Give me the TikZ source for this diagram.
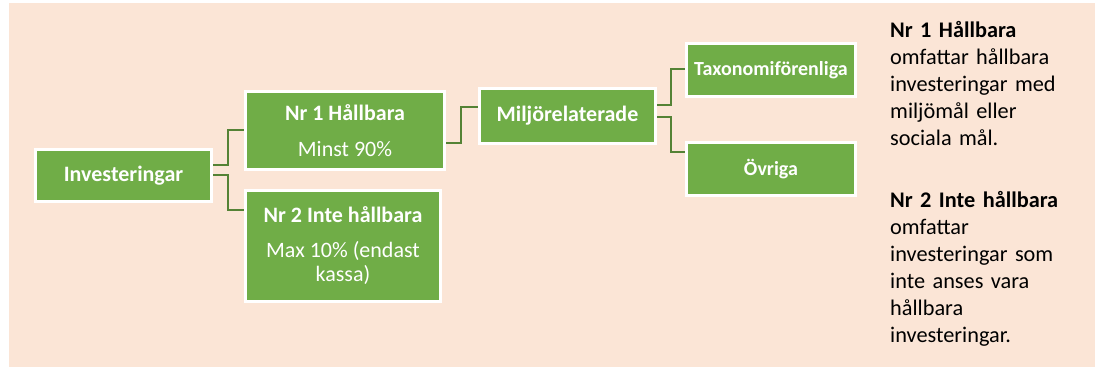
\documentclass[tikz,border=0pt]{standalone}
\usepackage{fontspec}
\setmainfont{Carlito}
\definecolor{bgbeige}{HTML}{FBE5D6}
\definecolor{boxgreen}{HTML}{70AD47}
\definecolor{linegreen}{HTML}{548235}
\begin{document}
\begin{tikzpicture}[x=1pt,y=-1pt,
  gbox/.style={fill=boxgreen, draw=white, line width=3pt, inner sep=0pt, text=white, align=center,
    font=\fontsize{22}{24}\selectfont},
  conn/.style={draw=linegreen, line width=2pt},
  note/.style={anchor=north west, inner sep=0pt, align=left, text width=200pt,
    font=\fontsize{22.3}{27}\selectfont}]
\useasboundingbox (0,0) rectangle (1095,368);
\fill[white] (0,0) rectangle (1095,368);
\fill[bgbeige] (9,3) rectangle (1095,367);
% boxes
\node[gbox, minimum width=176pt, minimum height=52pt] (inv) at (123.5,175.5) {\bfseries Investeringar};
\node[gbox, minimum width=199pt, minimum height=78pt] (n1) at (345,130.5) {\bfseries Nr 1 Hållbara\\[12pt] Minst 90\%};
\node[gbox, minimum width=195pt, minimum height=111pt] (n2) at (343,246) {\bfseries Nr 2 Inte hållbara\\[11pt] Max 10\% (endast\\ kassa)};
\node[gbox, minimum width=176pt, minimum height=55pt] (mil) at (567.5,116) {\bfseries Miljörelaterade};
\node[gbox, minimum width=169pt, minimum height=53pt, font=\fontsize{20}{24}\selectfont] (tax) at (771,70) {\bfseries Taxonomiförenliga};
\node[gbox, minimum width=169pt, minimum height=53pt, font=\fontsize{20}{24}\selectfont] (ovr) at (771,169) {\bfseries Övriga};
% connectors
\draw[conn] (inv.east |- 0,165) -| (228,130) -- (n1.west |- 0,130);
\draw[conn] (inv.east |- 0,175) -| (228,210) -- (n2.west |- 0,210);
\draw[conn] (n1.east |- 0,143) -| (461,107) -- (mil.west |- 0,107);
\draw[conn] (mil.east |- 0,105) -| (671,69) -- (tax.west |- 0,69);
\draw[conn] (mil.east |- 0,117) -| (671,152) -- (ovr.west |- 0,152);
% notes
\node[note] (note1) at (890,21) {\textbf{Nr 1 Hållbara}\\ omfattar hållbara\\ investeringar med\\ miljömål eller\\ sociala mål.};
\node[note] (note2) at (890,191) {\textbf{Nr 2 Inte hållbara}\\ omfattar\\ investeringar som\\ inte anses vara\\ hållbara\\ investeringar.};
\end{tikzpicture}
\end{document}
